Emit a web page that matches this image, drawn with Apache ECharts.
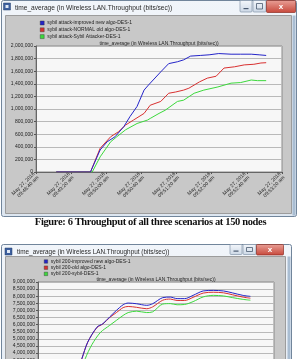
<!DOCTYPE html>
<html>
<head>
<meta charset="utf-8">
<script src="https://cdn.jsdelivr.net/npm/echarts@6/dist/echarts.min.js"></script>
<style>
  html, body { margin: 0; padding: 0; background: #fff; }
  body { width: 301px; height: 359px; overflow: hidden; position: relative; }
  #win1 { position: absolute; left: 0; top: 0; width: 301px; height: 218px; }
  #win2 { position: absolute; left: 0; top: 243px; width: 301px; height: 218px; }
  #caption {
    position: absolute; left: 0; top: 215px; width: 301px; height: 14px;
    text-align: center; font: bold 10.5px 'Liberation Serif', serif;
    letter-spacing: -0.35px; line-height: 14px; color: #111;
  }
</style>
</head>
<body>
<div id="win1"></div>
<div id="caption">Figure: 6 Throughput of all three scenarios at 150 nodes</div>
<div id="win2"></div>
<script>
// x axis: seconds after 09:48:40, one tick every 40 s
var xTickLabels = [
  'May 27, 2016\n09:48:40 am', 'May 27, 2016\n09:49:20 am', 'May 27, 2016\n09:50:00 am',
  'May 27, 2016\n09:50:40 am', 'May 27, 2016\n09:51:20 am', 'May 27, 2016\n09:52:00 am',
  'May 27, 2016\n09:52:40 am', 'May 27, 2016\n09:53:20 am'
];

// figure 6 (150 nodes)
var names150 = ['sybil attack-improved new algo-DES-1', 'sybil attack-NORMAL old algo-DES-1', 'sybil attack-Sybil Attacker-DES-1'];
var tBlue150 = [23, 62, 73, 81, 90, 100, 107, 115, 123, 128, 142, 151, 161, 168, 176, 187, 197, 208, 222, 233, 245, 254, 262];
var vBlue150 = [0, 0, 350000, 480000, 560000, 720000, 880000, 1040000, 1300000, 1380000, 1590000, 1720000, 1750000, 1780000, 1840000, 1850000, 1860000, 1880000, 1870000, 1870000, 1870000, 1860000, 1850000];
var tRed150 = [23, 62, 73, 85, 94, 102, 111, 123, 130, 142, 151, 159, 168, 174, 186, 195, 205, 214, 226, 237, 248, 256, 262];
var vRed150 = [0, 0, 376000, 560000, 640000, 746000, 825000, 930000, 1060000, 1120000, 1250000, 1270000, 1300000, 1330000, 1430000, 1490000, 1520000, 1650000, 1670000, 1700000, 1710000, 1730000, 1735000];
var tGreen150 = [23, 64, 73, 85, 92, 102, 115, 127, 130, 140, 147, 161, 168, 180, 191, 207, 222, 233, 245, 252, 262];
var vGreen150 = [0, 0, 240000, 480000, 560000, 670000, 770000, 825000, 850000, 930000, 980000, 1120000, 1140000, 1250000, 1300000, 1350000, 1410000, 1420000, 1460000, 1450000, 1450000];

// second window (sybil 200)
var names200 = ['sybil 200-improved new algo-DES-1', 'sybil 200-old algo-DES-1', 'sybil 200-sybil-DES-1'];
var t200 = [8, 30, 52, 59, 70, 77, 85, 93, 101, 107, 117, 129, 136, 148, 157, 165, 174, 184, 196, 208, 220, 231, 243, 252];
var vBlue200 = [0, 0, 3600000, 4770000, 5830000, 6070000, 6540000, 7000000, 7400000, 7520000, 7470000, 7360000, 7470000, 7900000, 7940000, 7830000, 7830000, 8060000, 8370000, 8410000, 8370000, 8230000, 8060000, 7990000];
var vRed200 = [0, 0, 3600000, 4770000, 5800000, 6050000, 6500000, 6850000, 7200000, 7280000, 7220000, 7120000, 7250000, 7720000, 7800000, 7700000, 7700000, 7920000, 8220000, 8280000, 8240000, 8100000, 7940000, 7860000];
var tGreen200 = [8, 34, 56, 64, 74, 85, 93, 101, 107, 117, 129, 136, 148, 157, 165, 174, 184, 196, 208, 220, 231, 243, 252];
var vGreen200 = [0, 0, 3600000, 4600000, 5450000, 5950000, 6300000, 6650000, 6850000, 6950000, 6850000, 6900000, 7450000, 7480000, 7400000, 7420000, 7620000, 7950000, 8060000, 8020000, 7900000, 7780000, 7720000];

var colors = ['#2424c8', '#d83030', '#3cd83c'];
var plotTitle = 'time_average (in Wireless LAN.Throughput (bits/sec))';
var FONT = 'Liberation Sans';

function pairs(t, v) {
  return t.map(function (x, i) { return [x, v[i]]; });
}

function fmt(v) {
  return v.toLocaleString('en-US');
}

// window frame, title bar, buttons and grey panel
function chrome(w) {
  var grey = { type: 'linear', x: 0, y: 0, x2: 0, y2: 1, colorStops: [{ offset: 0, color: '#f1f5fa' }, { offset: 1, color: '#dde6f0' }] };
  var red = { type: 'linear', x: 0, y: 0, x2: 0, y2: 1, colorStops: [{ offset: 0, color: '#e9a097' }, { offset: 1, color: '#c7473a' }] };
  var btn = { type: 'linear', x: 0, y: 0, x2: 0, y2: 1, colorStops: [{ offset: 0, color: '#f4f7fb' }, { offset: 1, color: '#ccd8e6' }] };
  return [
    { type: 'rect', z: -10, shape: { x: w.x, y: w.y, width: w.w, height: w.h, r: 2 }, style: { fill: grey, stroke: '#71859b', lineWidth: 1 } },
    { type: 'rect', z: -9, shape: { x: w.x + w.w - 4, y: w.py, width: 3, height: w.h - w.py + w.y - 1 }, style: { fill: '#a9bdd2' } },
    { type: 'rect', z: -9, shape: { x: w.px, y: w.py, width: w.pw, height: w.ph }, style: { fill: '#c8c8c8', stroke: '#9c9c9c', lineWidth: 1 } },
    { type: 'rect', z: -8, shape: { x: w.ix, y: w.iy, width: 7, height: 7 }, style: { fill: '#3d5f9e', stroke: '#27406e', lineWidth: 0.5 } },
    { type: 'rect', z: -7, shape: { x: w.ix + 2, y: w.iy + 2, width: 3, height: 3 }, style: { fill: '#dfe8f5' } },
    { type: 'text', z: -7, style: { x: w.tx, y: w.ty, text: plotTitle, font: w.tf + 'px ' + FONT, fill: '#2a2a2a', textVerticalAlign: 'middle' } },
    { type: 'rect', z: -8, shape: { x: w.bx, y: w.y, width: 12, height: w.bh, r: 1 }, style: { fill: btn, stroke: '#8596ab', lineWidth: 0.7 } },
    { type: 'rect', z: -7, shape: { x: w.bx + 3.5, y: w.y + w.bh - 4, width: 5, height: 1.2 }, style: { fill: '#4a5a70' } },
    { type: 'rect', z: -8, shape: { x: w.bx + 13, y: w.y, width: 13, height: w.bh, r: 1 }, style: { fill: btn, stroke: '#8596ab', lineWidth: 0.7 } },
    { type: 'rect', z: -7, shape: { x: w.bx + 16.5, y: w.y + 3, width: 6, height: w.bh - 6 }, style: { fill: 'none', stroke: '#4a5a70', lineWidth: 0.8 } },
    { type: 'rect', z: -8, shape: { x: w.bx + 26.5, y: w.y, width: w.cw, height: w.bh + 0.5, r: 1 }, style: { fill: red, stroke: '#8c2c22', lineWidth: 0.7 } },
    { type: 'text', z: -7, style: { x: w.bx + 26.5 + w.cw / 2, y: w.y + w.bh / 2 + 0.5, text: 'x', font: 'bold 8px ' + FONT, fill: '#fff', textAlign: 'center', textVerticalAlign: 'middle' } }
  ];
}

function makeOption(p) {
  return {
    animation: false,
    color: colors,
    textStyle: { fontFamily: FONT },
    graphic: chrome(p.win),
    title: {
      text: plotTitle, left: p.grid.left + p.grid.width / 2, top: p.titleTop, textAlign: 'center', padding: 0,
      textStyle: { fontSize: 5, fontWeight: 'normal', color: '#222', fontFamily: FONT }
    },
    legend: {
      orient: 'vertical', left: p.legLeft, top: p.legTop, padding: 0, icon: 'rect',
      itemWidth: p.legItem, itemHeight: p.legItem, itemGap: p.legGap,
      itemStyle: { borderColor: '#333', borderWidth: 0.4 },
      textStyle: { fontSize: 5, lineHeight: p.legItem, color: '#222', padding: [0, 0, 0, -2] },
      data: p.names
    },
    grid: {
      left: p.grid.left, top: p.grid.top, width: p.grid.width, height: p.grid.height,
      show: true, backgroundColor: '#f7f7f7', borderColor: '#8a8a8a', borderWidth: 1
    },
    xAxis: {
      type: 'value', min: 0, max: 280, interval: 40,
      axisLine: { show: true, onZero: false, lineStyle: { color: '#666', width: 1 } },
      axisTick: { show: true, length: 2, lineStyle: { color: '#555' } },
      splitLine: { show: false },
      axisLabel: {
        rotate: 45, fontSize: 5, lineHeight: 5.5, margin: 3, color: '#222',
        formatter: function (v) { return xTickLabels[Math.round(v / 40)]; }
      }
    },
    yAxis: {
      type: 'value', min: 0, max: p.yMax, interval: p.yStep,
      axisLine: { show: true, lineStyle: { color: '#666', width: 1 } },
      axisTick: { show: true, length: 2, lineStyle: { color: '#555' } },
      splitLine: { show: true, lineStyle: { color: '#b9b9b9', width: 1 } },
      axisLabel: { fontSize: 5, margin: 3, color: '#222', formatter: fmt }
    },
    series: p.series.map(function (d, i) {
      return {
        name: p.names[i], type: 'line', data: d, showSymbol: false, smooth: p.smooth,
        lineStyle: { width: 1, color: colors[i] }, z: 3 - i
      };
    })
  };
}

var chart1 = echarts.init(document.getElementById('win1'));
chart1.setOption(makeOption({
  win: { x: 1.5, y: 0.5, w: 295, h: 216, px: 5.5, py: 15.5, pw: 286, ph: 198, ix: 3.5, iy: 3, tx: 15, ty: 8.5, tf: 6.6, bx: 240, bh: 11.5, cw: 29 },
  grid: { left: 36, top: 46, width: 246, height: 126 },
  titleTop: 41, legLeft: 40, legTop: 20.5, legItem: 4, legGap: 1.8,
  names: names150, yMax: 2000000, yStep: 200000, smooth: false,
  series: [pairs(tBlue150, vBlue150), pairs(tRed150, vRed150), pairs(tGreen150, vGreen150)]
}));

var chart2 = echarts.init(document.getElementById('win2'));
chart2.setOption(makeOption({
  win: { x: 1.5, y: 1.5, w: 290, h: 230, px: 5.5, py: 13.5, pw: 280, ph: 212, ix: 5, iy: 5, tx: 17, ty: 9, tf: 6.4, bx: 230, bh: 10, cw: 27 },
  grid: { left: 38, top: 39, width: 236, height: 128 },
  titleTop: 34.5, legLeft: 44, legTop: 16, legItem: 3.5, legGap: 1.2,
  names: names200, yMax: 9000000, yStep: 500000, smooth: 0.3,
  series: [pairs(t200, vBlue200), pairs(t200, vRed200), pairs(tGreen200, vGreen200)]
}));
</script>
</body>
</html>
